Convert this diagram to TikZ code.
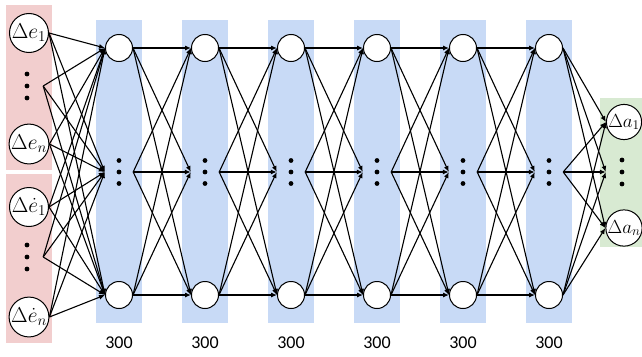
\documentclass[tikz,border=0pt]{standalone}
\usepackage{fix-cm}
\usepackage{fontspec}
\newfontfamily\numfont{Carlito}
\usetikzlibrary{arrows.meta}
\definecolor{pinkbg}{RGB}{242,206,206}
\definecolor{bluebg}{RGB}{200,218,246}
\definecolor{greenbg}{RGB}{216,234,210}
\begin{document}
\begin{tikzpicture}[x=1pt,y=-1pt,
  inode/.style={circle,draw,fill=white,line width=1pt,minimum size=39pt,inner sep=0pt,font=\fontsize{21.5}{21.5}\selectfont},
  onode/.style={circle,draw,fill=white,line width=1pt,minimum size=34pt,inner sep=0pt,font=\fontsize{19}{19}\selectfont},
  hnode/.style={circle,draw,fill=white,line width=1pt,minimum size=27pt,inner sep=0pt},
  dotbox/.style={rectangle,minimum width=28pt,minimum height=27pt,inner sep=0pt},
  idotbox/.style={rectangle,minimum width=30pt,minimum height=27pt,inner sep=0pt},
  conn/.style={line width=1.1pt,-{Latex[length=6pt,width=5pt]}},
  lbl/.style={font=\numfont\fontsize{18}{18}\selectfont}
]
\useasboundingbox (0,0) rectangle (642,356);
% backgrounds
\fill[pinkbg] (6,5) rectangle (52,170);
\fill[pinkbg] (6,174) rectangle (52,343);
\fill[greenbg] (600,98) rectangle (642,247);
\foreach \i in {0,...,5}{
  \fill[bluebg] ({96+86*\i},20) rectangle ({142+86*\i},323);
}
% input nodes
\node[inode] (e1) at (29,33) {$\Delta e_1$};
\node[idotbox] (ed) at (28,86) {};
\node[inode] (en) at (29,144) {$\Delta e_n$};
\node[inode] (d1) at (29,207) {$\Delta \dot{e}_1$};
\node[idotbox] (dd) at (28,257) {};
\node[inode] (dn) at (29,317) {$\Delta \dot{e}_n$};
\foreach \yy in {74,86,98}{\fill (27,\yy) circle (2.4pt);}
\foreach \yy in {245,257,269}{\fill (27,\yy) circle (2.4pt);}
% hidden layers
\foreach \i in {1,...,6}{
  \node[hnode] (h\i t) at ({119+86*(\i-1)},48) {};
  \node[dotbox] (h\i m) at ({119+86*(\i-1)},172) {};
  \node[hnode] (h\i b) at ({119+86*(\i-1)},295) {};
  \foreach \yy in {160.5,172,183.5}{\fill ({119+86*(\i-1)},\yy) circle (2.4pt);}
  \node[lbl] (l\i) at ({119+86*(\i-1)},343) {300};
}
% output nodes
\node[onode] (a1) at (624,122) {$\Delta a_1$};
\node[dotbox] (ad) at (620,172) {};
\node[onode] (an) at (624,228) {$\Delta a_n$};
\foreach \yy in {160,172,184}{\fill (622,\yy) circle (2.4pt);}
% connections input -> hidden 1
\foreach \s in {e1,ed,en,d1,dd,dn}{
  \foreach \t in {h1t,h1m,h1b}{
    \draw[conn] (\s.east) -- (\t.west);
  }
}
% hidden -> hidden
\foreach \i [evaluate=\i as \j using int(\i+1)] in {1,...,5}{
  \foreach \s in {t,m,b}{
    \foreach \t in {t,m,b}{
      \draw[conn] (h\i\s.east) -- (h\j\t.west);
    }
  }
}
% hidden 6 -> output
\foreach \s in {h6t,h6m,h6b}{
  \foreach \t in {a1,ad,an}{
    \draw[conn] (\s.east) -- (\t.west);
  }
}
\end{tikzpicture}
\end{document}
